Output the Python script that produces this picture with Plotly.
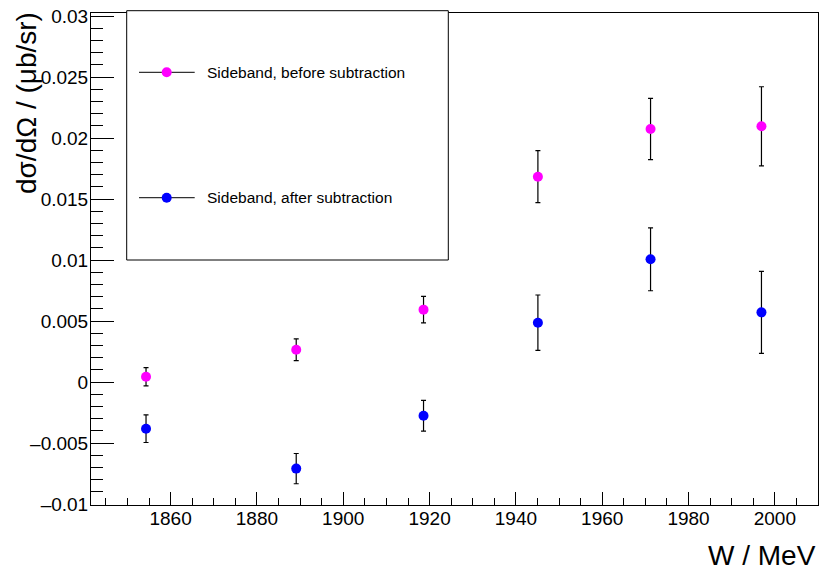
import plotly.graph_objects as go

# ---- data ----
w_mev = [1854.3, 1889.1, 1918.6, 1945.1, 1971.2, 1996.9]
before_vals = [0.00043, 0.00265, 0.00593, 0.01683, 0.02074, 0.02096]
before_errs = [0.00075, 0.00089, 0.00109, 0.00213, 0.00251, 0.00324]
after_vals = [-0.00383, -0.00710, -0.00276, 0.00486, 0.01006, 0.00571]
after_errs = [0.00113, 0.00124, 0.00126, 0.00227, 0.00258, 0.00336]
series_names = ["Sideband, before subtraction", "Sideband, after subtraction"]
series_colors = ["#FF00FF", "#0000FF"]
x_tick_vals = [1860, 1880, 1900, 1920, 1940, 1960, 1980, 2000]
x_tick_text = ["1860", "1880", "1900", "1920", "1940", "1960", "1980", "2000"]
y_tick_vals = [-0.01, -0.005, 0, 0.005, 0.01, 0.015, 0.02, 0.025, 0.03]
y_tick_text = ["\u20130.01", "\u20130.005", "0", "0.005", "0.01", "0.015", "0.02", "0.025", "0.03"]

W, H = 820, 571
L, R, T, B = 91, 2, 13, 66
PW, PH = W - L - R, H - T - B
FONT = "Liberation Sans, Arial, Helvetica, sans-serif"

fig = go.Figure()
for vals, errs, col, name in [(before_vals, before_errs, series_colors[0], series_names[0]),
                              (after_vals, after_errs, series_colors[1], series_names[1])]:
    fig.add_trace(go.Scatter(
        x=w_mev, y=vals, mode="markers", name=name, showlegend=False,
        marker=dict(color=col, size=10, line=dict(width=0)),
        error_y=dict(type="data", array=errs, visible=True, color="black",
                     thickness=1.2, width=2.5),
    ))

def px2paper(px, py):
    return (px - L) / PW, (H - B - py) / PH

shapes = []
annotations = []
# legend box
x0, y1 = px2paper(126.7, 10.7)
x1, y0 = px2paper(448.3, 260)
shapes.append(dict(type="rect", xref="paper", yref="paper", x0=x0, x1=x1, y0=y0, y1=y1,
                   line=dict(color="black", width=1), fillcolor="white", layer="above"))
for name, col, py in zip(series_names, series_colors, [72.3, 197.7]):
    lx0, ly = px2paper(139, py)
    lx1, _ = px2paper(194.7, py)
    mx, _ = px2paper(166.7, py)
    tx, _ = px2paper(204.7, py)
    shapes.append(dict(type="line", xref="paper", yref="paper", x0=lx0, x1=lx1, y0=ly, y1=ly,
                       line=dict(color="#333333", width=1.2), layer="above"))
    shapes.append(dict(type="circle", xref="paper", yref="paper", xsizemode="pixel",
                       ysizemode="pixel", xanchor=mx, yanchor=ly, x0=-5, x1=5, y0=-5, y1=5,
                       fillcolor=col, line=dict(width=0), layer="above"))
    annotations.append(dict(text=name, xref="paper", yref="paper", x=tx, y=ly,
                            xanchor="left", yanchor="middle", showarrow=False,
                            font=dict(family=FONT, size=15.5, color="black")))

# axis titles
annotations.append(dict(text="W / MeV", xref="paper", yref="paper", x=1, y=0,
                        xanchor="right", yanchor="middle", xshift=0, yshift=-50,
                        showarrow=False, font=dict(family=FONT, size=28, color="black")))
annotations.append(dict(text="dσ/dΩ / (μb/sr)", xref="paper", yref="paper", x=0, y=1,
                        xanchor="center", yanchor="top", xshift=-(L - 26), yshift=3,
                        textangle=-90, showarrow=False,
                        font=dict(family=FONT, size=28, color="black")))

fig.update_layout(
    width=W, height=H, autosize=False,
    margin=dict(l=L, r=R, t=T, b=B, pad=0),
    paper_bgcolor="white", plot_bgcolor="white",
    font=dict(family=FONT, color="black"),
    shapes=shapes, annotations=annotations, showlegend=False,
)
fig.update_xaxes(
    range=[1841.55, 2010.0], showgrid=False, zeroline=False,
    showline=True, linecolor="black", linewidth=1, mirror=True,
    ticks="inside", ticklen=13, tickwidth=1, tickcolor="black",
    tickmode="array", tickvals=x_tick_vals, ticktext=x_tick_text,
    tickfont=dict(family=FONT, size=19), ticklabelstandoff=-4,
    minor=dict(ticks="inside", ticklen=7, dtick=5, tick0=1860, tickcolor="black", tickwidth=1, showgrid=False),
)
fig.update_yaxes(
    range=[-0.010082, 0.030246], showgrid=False, zeroline=False,
    showline=True, linecolor="black", linewidth=1, mirror=True,
    ticks="inside", ticklen=23, tickwidth=1, tickcolor="black",
    tickmode="array", tickvals=y_tick_vals, ticktext=y_tick_text,
    tickfont=dict(family=FONT, size=19), ticklabelstandoff=-2,
    minor=dict(ticks="inside", ticklen=12, dtick=0.001, tick0=0, tickcolor="black", tickwidth=1, showgrid=False),
)

fig.write_html("out.html")
